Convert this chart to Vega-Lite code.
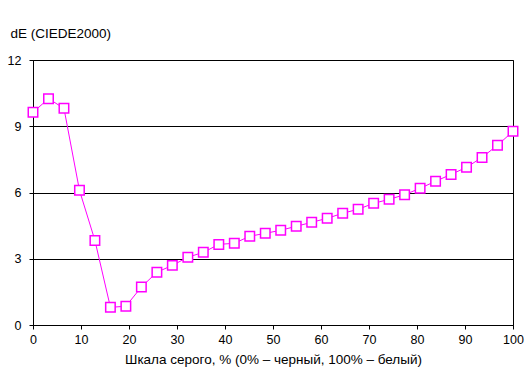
{
  "$schema": "https://vega.github.io/schema/vega-lite/v6.json",
  "autosize": "none",
  "width": 480,
  "height": 265,
  "padding": {"left": 33, "top": 60, "right": 18, "bottom": 52},
  "background": "white",
  "config": {
    "view": {"stroke": "black", "strokeWidth": 1},
    "font": "Liberation Sans",
    "axis": {
      "labelFont": "Liberation Sans",
      "titleFont": "Liberation Sans",
      "labelFontSize": 12.5,
      "titleFontSize": 13.5,
      "labelColor": "black",
      "titleColor": "black",
      "titleFontWeight": "normal",
      "domainColor": "black",
      "tickColor": "black",
      "tickSize": 4,
      "gridColor": "black",
      "gridOpacity": 1
    }
  },
  "data": {
    "values": [
      {"x": 0, "y": 9.63},
      {"x": 3.23, "y": 10.25},
      {"x": 6.45, "y": 9.81},
      {"x": 9.68, "y": 6.1},
      {"x": 12.9, "y": 3.83},
      {"x": 16.13, "y": 0.8},
      {"x": 19.35, "y": 0.85},
      {"x": 22.58, "y": 1.72},
      {"x": 25.81, "y": 2.39},
      {"x": 29.03, "y": 2.7},
      {"x": 32.26, "y": 3.07},
      {"x": 35.48, "y": 3.29},
      {"x": 38.71, "y": 3.65},
      {"x": 41.94, "y": 3.7},
      {"x": 45.16, "y": 4.02},
      {"x": 48.39, "y": 4.15},
      {"x": 51.61, "y": 4.29},
      {"x": 54.84, "y": 4.47},
      {"x": 58.06, "y": 4.65},
      {"x": 61.29, "y": 4.83},
      {"x": 64.52, "y": 5.06},
      {"x": 67.74, "y": 5.24},
      {"x": 70.97, "y": 5.51},
      {"x": 74.19, "y": 5.69},
      {"x": 77.42, "y": 5.9},
      {"x": 80.65, "y": 6.19},
      {"x": 83.87, "y": 6.51},
      {"x": 87.1, "y": 6.82},
      {"x": 90.32, "y": 7.14},
      {"x": 93.55, "y": 7.59},
      {"x": 96.77, "y": 8.14},
      {"x": 100, "y": 8.77}
    ]
  },
  "encoding": {
    "x": {
      "field": "x",
      "type": "quantitative",
      "scale": {"domain": [0, 100], "nice": false},
      "axis": {
        "values": [0, 10, 20, 30, 40, 50, 60, 70, 80, 90, 100],
        "grid": false,
        "labelPadding": 4,
        "labelFlush": false,
        "title": "Шкала серого, % (0% – черный, 100% – белый)",
        "titlePadding": 7
      }
    },
    "y": {
      "field": "y",
      "type": "quantitative",
      "scale": {"domain": [0, 12], "nice": false},
      "axis": {
        "values": [0, 3, 6, 9, 12],
        "grid": true,
        "labelPadding": 8,
        "title": "dE (CIEDE2000)",
        "titleAngle": 0,
        "titleAlign": "left",
        "titleBaseline": "alphabetic",
        "titleX": -23,
        "titleY": -23
      }
    }
  },
  "layer": [
    {"mark": {"type": "line", "color": "#FF00FF", "strokeWidth": 1}},
    {"mark": {"type": "point", "shape": "square", "size": 90, "filled": true, "fill": "white", "stroke": "#FF00FF", "strokeWidth": 1.5, "opacity": 1}}
  ]
}
